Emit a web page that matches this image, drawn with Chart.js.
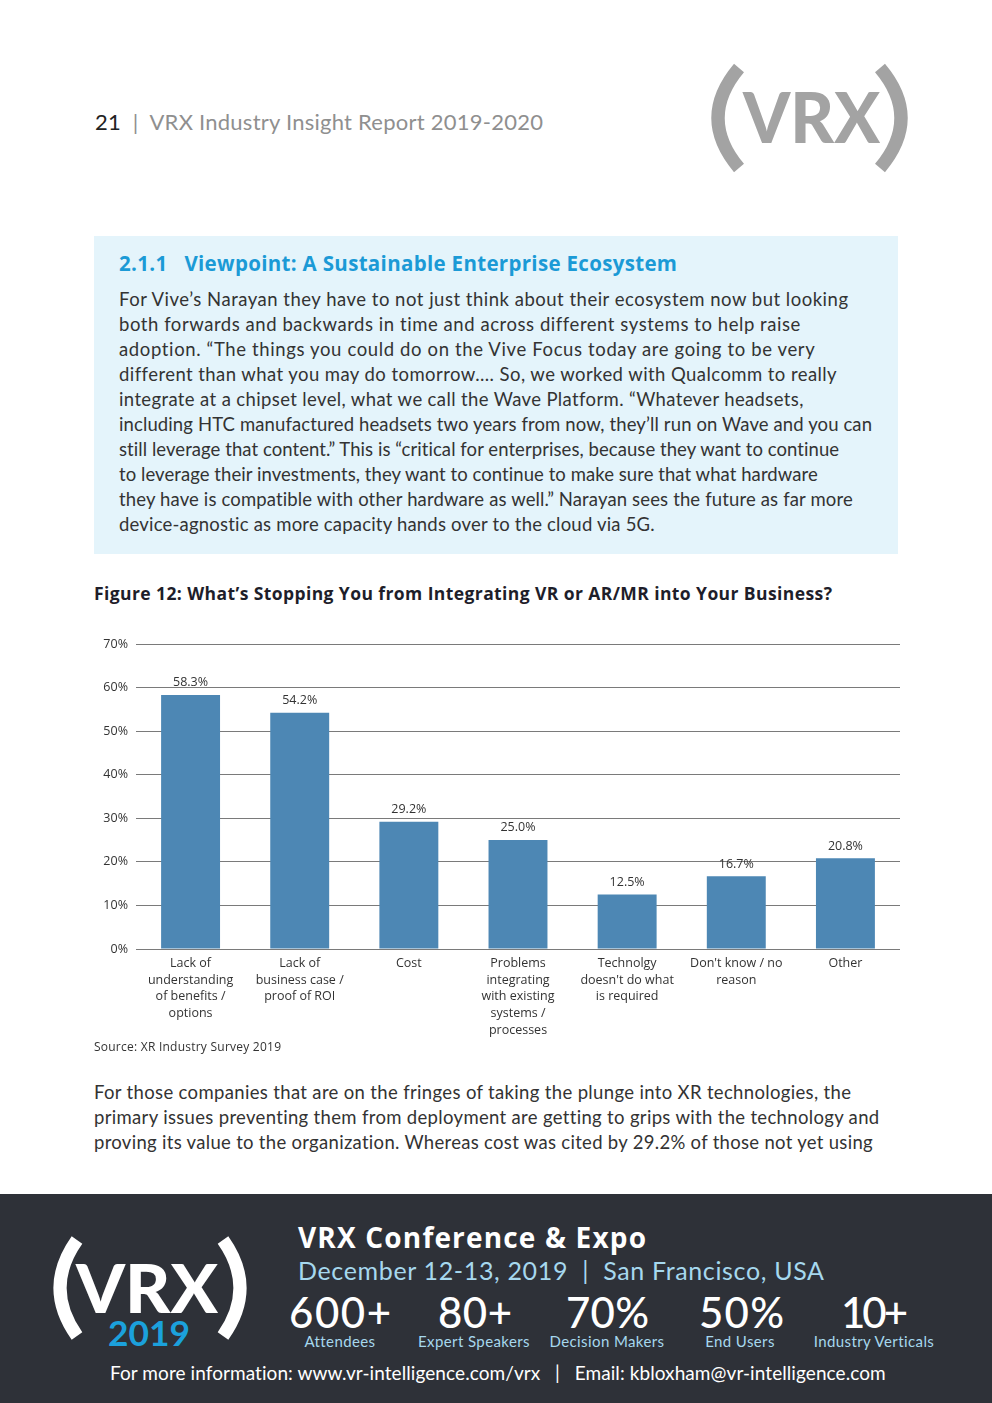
<!DOCTYPE html>
<html>
<head>
<meta charset="utf-8">
<script src="https://cdn.jsdelivr.net/npm/chart.js@4.4.0/dist/chart.umd.min.js"></script>
<style>
  html,body{margin:0;padding:0;background:#fff;}
  body{width:992px;height:1403px;position:relative;overflow:hidden;font-family:Lato,"Open Sans",sans-serif;color:#333;}
  .abs{position:absolute;white-space:nowrap;}
  #hdr{left:95px;top:108px;font-size:22px;color:#8f8f8f;}
  #hdr b{color:#222;font-weight:400;}
  #box{left:94px;top:236px;width:804px;height:318px;background:#e4f4fb;}
  #boxh{left:119px;top:249px;font-size:20.5px;font-weight:700;color:#1b9ad6;font-family:"Open Sans";}
  .bt{position:absolute;left:119px;font-size:18.5px;line-height:25px;color:#333;white-space:nowrap;}
  .pt{position:absolute;left:94px;font-size:18.5px;line-height:25px;color:#333;white-space:nowrap;}
  #figt{left:94px;top:581px;font-size:17.5px;font-weight:700;color:#1e1e2a;font-family:"Open Sans";}
  #chartwrap{left:92px;top:626px;width:808px;height:414px;}
  #src{left:94px;top:1038px;font-size:12px;color:#333;font-family:"Open Sans";}
  #foot{left:0;top:1194px;width:992px;height:209px;background:#2e3138;}
  .w{color:#fff;}
  .num{top:1287px;font-size:42px;font-weight:500;color:#fff;}
  .lbl{top:1332px;font-size:15px;color:#a6d8ee;text-align:center;}
</style>
</head>
<body>
<div class="abs" id="hdr" data-w="448"><b>21</b> &nbsp;|&nbsp; VRX Industry Insight Report 2019-2020</div>
<svg class="abs" style="left:0;top:0" width="992" height="200">
  <path d="M 739 68 Q 697 118 739 168" stroke="#a3a3a3" stroke-width="13" fill="none"/>
  <path d="M 880 68 Q 922 118 880 168" stroke="#a3a3a3" stroke-width="13" fill="none"/>
  <text x="743" y="143" font-family="Lato" font-weight="900" font-size="70" fill="#a3a3a3" textLength="137" lengthAdjust="spacingAndGlyphs">VRX</text>
</svg>

<div class="abs" id="box"></div>
<div class="abs" id="boxh" data-w="558">2.1.1&nbsp;&nbsp; Viewpoint: A Sustainable Enterprise Ecosystem</div>
<div class="bt" style="top:287px" data-w="729">For Vive’s Narayan they have to not just think about their ecosystem now but looking</div>
<div class="bt" style="top:312px" data-w="681">both forwards and backwards in time and across different systems to help raise</div>
<div class="bt" style="top:337px" data-w="696">adoption. “The things you could do on the Vive Focus today are going to be very</div>
<div class="bt" style="top:362px" data-w="717">different than what you may do tomorrow…. So, we worked with Qualcomm to really</div>
<div class="bt" style="top:387px" data-w="684">integrate at a chipset level, what we call the Wave Platform. “Whatever headsets,</div>
<div class="bt" style="top:412px" data-w="753">including HTC manufactured headsets two years from now, they’ll run on Wave and you can</div>
<div class="bt" style="top:437px" data-w="721">still leverage that content.” This is “critical for enterprises, because they want to continue</div>
<div class="bt" style="top:462px" data-w="699">to leverage their investments, they want to continue to make sure that what hardware</div>
<div class="bt" style="top:487px" data-w="734">they have is compatible with other hardware as well.” Narayan sees the future as far more</div>
<div class="bt" style="top:512px" data-w="536">device-agnostic as more capacity hands over to the cloud via 5G.</div>

<div class="abs" id="figt" data-w="738">Figure 12: What’s Stopping You from Integrating VR or AR/MR into Your Business?</div>
<div class="abs" id="chartwrap"><canvas id="c"></canvas></div>
<div class="abs" id="src" data-w="187">Source: XR Industry Survey 2019</div>
<div class="pt" style="top:1080px" data-w="757">For those companies that are on the fringes of taking the plunge into XR technologies, the</div>
<div class="pt" style="top:1105px" data-w="785">primary issues preventing them from deployment are getting to grips with the technology and</div>
<div class="pt" style="top:1130px" data-w="779">proving its value to the organization. Whereas cost was cited by 29.2% of those not yet using</div>

<div class="abs" id="foot"></div>
<svg class="abs" style="left:0;top:1194px" width="992" height="209">
  <path d="M 77 46 Q 43 94 77 142" stroke="#fff" stroke-width="13" fill="none"/>
  <path d="M 223 46 Q 257 94 223 142" stroke="#fff" stroke-width="13" fill="none"/>
  <text x="76" y="119" font-family="Lato" font-weight="900" font-size="66" fill="#fff" textLength="142" lengthAdjust="spacingAndGlyphs">VRX</text>
  <text x="108" y="152" font-family="Lato" font-weight="700" font-size="35" fill="#1ba1dc" textLength="82" lengthAdjust="spacingAndGlyphs">2019</text>
</svg>
<div class="abs w" style="left:298px;top:1218px;font-size:28px;font-weight:700;font-family:'Open Sans';" data-w="348">VRX Conference &amp; Expo</div>
<div class="abs" style="left:298px;top:1255px;font-size:25px;color:#a6d8ee;" data-w="526">December 12-13, 2019 &nbsp;|&nbsp; San Francisco, USA</div>
<div class="abs num" style="left:289px;" data-w="102">600+</div>
<div class="abs num" style="left:438px;" data-w="74">80+</div>
<div class="abs num" style="left:566px;" data-w="83">70%</div>
<div class="abs num" style="left:699px;" data-w="85">50%</div>
<div class="abs num" style="left:841px;" data-w="67">10+</div>
<div class="abs lbl" style="left:290px;width:100px;">Attendees</div>
<div class="abs lbl" style="left:404px;width:140px;">Expert Speakers</div>
<div class="abs lbl" style="left:537px;width:140px;">Decision Makers</div>
<div class="abs lbl" style="left:690px;width:100px;">End Users</div>
<div class="abs lbl" style="left:804px;width:140px;">Industry Verticals</div>
<div class="abs w" style="left:110px;top:1361px;font-size:19px;" data-w="776">For more information: www.vr-intelligence.com/vrx &nbsp;&nbsp;|&nbsp;&nbsp; Email: kbloxham@vr-intelligence.com</div>

<script>
// fit text lines to measured widths of the reference
document.querySelectorAll('[data-w]').forEach(el=>{
  const target = parseFloat(el.dataset.w);
  const nat = el.getBoundingClientRect().width;
  const n = el.textContent.length;
  if (n > 1) el.style.letterSpacing = ((target - nat) / (n - 1)) + 'px';
});
document.querySelectorAll('.lbl').forEach(el=>{ el.style.letterSpacing='0.4px'; });

const categories = [
  ["Lack of","understanding","of benefits /","options"],
  ["Lack of","business case /","proof of ROI"],
  ["Cost"],
  ["Problems","integrating","with existing","systems /","processes"],
  ["Technolgy","doesn't do what","is required"],
  ["Don't know / no","reason"],
  ["Other"]
];
const values = [58.3, 54.2, 29.2, 25.0, 12.5, 16.7, 20.8];
const valueLabels = ["58.3%","54.2%","29.2%","25.0%","12.5%","16.7%","20.8%"];
const yTicks = [0,10,20,30,40,50,60,70];

const FONT = '"Open Sans"';
const dataLabels = {
  id:'dataLabels',
  afterDatasetsDraw(chart){
    const ctx = chart.ctx;
    const meta = chart.getDatasetMeta(0);
    ctx.save();
    ctx.font = '12.5px ' + FONT;
    ctx.fillStyle = '#333';
    ctx.textAlign = 'center';
    ctx.textBaseline = 'bottom';
    meta.data.forEach((bar,i)=>{
      ctx.fillText(valueLabels[i], bar.x, bar.y - 6);
    });
    ctx.restore();
  }
};

new Chart(document.getElementById('c'), {
  type:'bar',
  data:{
    labels: categories,
    datasets:[{data: values, backgroundColor:'#4d87b4', borderWidth:0,
      categoryPercentage:1, barPercentage:0.54}]
  },
  options:{
    responsive:true, maintainAspectRatio:false, animation:false,
    layout:{padding:{top:18,right:0,left:0,bottom:0}},
    plugins:{legend:{display:false}, tooltip:{enabled:false}},
    scales:{
      x:{
        grid:{display:false, drawTicks:false},
        border:{display:true, color:'#7a7a7a', width:1},
        ticks:{color:'#333', font:{family:FONT, size:12.5, lineHeight:1.34}, padding:6, maxRotation:0, autoSkip:false},
        afterFit(s){ s.height = 91; }
      },
      y:{
        min:0, max:70,
        afterBuildTicks(s){ s.ticks = yTicks.map(v=>({value:v})); },
        grid:{color:'#7a7a7a', lineWidth:1, drawTicks:false},
        border:{display:false},
        ticks:{color:'#333', font:{family:FONT, size:12.5}, padding:8, callback:v=>v+'%'},
        afterFit(s){ s.width = 44; }
      }
    }
  },
  plugins:[dataLabels]
});
</script>
</body>
</html>
